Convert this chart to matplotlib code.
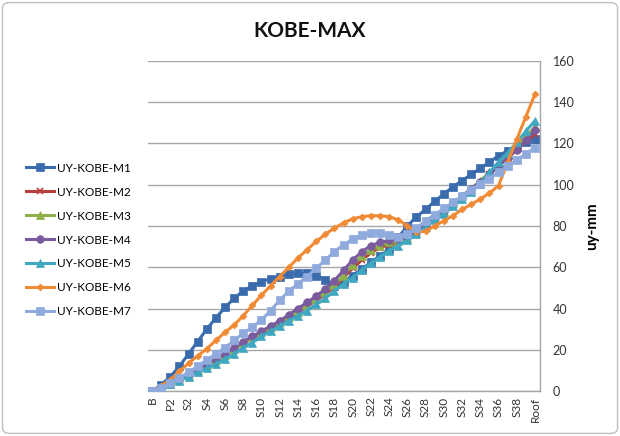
import matplotlib
matplotlib.use("Agg")
import matplotlib.pyplot as plt
from matplotlib.patches import FancyBboxPatch

plt.rcParams['font.family'] = ['Lato', 'DejaVu Sans']

categories = ["B", "P1", "P2"] + [f"S{i}" for i in range(1, 40)] + ["Roof"]

m1 = [0, 3, 7, 12, 18, 24, 30, 35.5, 40.5, 45, 48.5, 51, 53, 54.5, 55.5, 56.5, 57, 57, 56, 54,
      51, 53, 56, 59, 62.5, 65.5, 68.5, 74.5, 80, 84.5, 88, 92, 95.5, 99, 102, 105, 108, 111,
      114, 116.5, 118.5, 120.5, 122]
m2 = [0, 1.5, 3.5, 5.5, 7.5, 10, 12.5, 15, 17.5, 20.5, 23, 25.5, 28, 30.5, 33, 35.5, 38, 41,
      44, 47, 50.5, 55, 59.5, 63.5, 67, 69.5, 71, 72, 73.5, 76.5, 80, 83.5, 87, 90.5, 94, 97.5,
      101, 105, 109, 113, 117, 121, 124.5]
m3 = [0, 1.5, 3.5, 5.5, 7.5, 10, 12.5, 15, 17.5, 20.5, 23.5, 26, 28.5, 31, 33.5, 36, 38.5,
      41.5, 44.5, 48, 51.5, 56, 61, 65.5, 68.5, 70.5, 72, 72.5, 74, 77, 80.5, 84, 87.5, 91,
      94.5, 98, 102, 106, 110, 114.5, 119, 123.5, 128]
m4 = [0, 1.5, 3.5, 5.5, 8, 10.5, 13, 15.5, 18, 21, 24, 26.5, 29, 31.5, 34, 37, 40, 43, 46,
      49.5, 53.5, 58.5, 63.5, 67.5, 70.5, 72, 73, 73.5, 74.5, 77, 80.5, 84, 87.5, 91, 94.5, 98,
      101.5, 105, 109, 113, 117, 121.5, 126.5]
m5 = [0, 1.5, 3.5, 5, 7, 9, 11, 13, 15.5, 18, 21, 23.5, 26.5, 29, 31.5, 34, 36.5, 39, 42, 45,
      48.5, 52, 55, 58.5, 62, 65, 68, 70.5, 73, 76, 79.5, 83, 86, 89.5, 93, 96.5, 100.5, 106,
      111, 115.5, 120.5, 126, 131]
m6 = [0, 2.5, 5.5, 9.5, 13.5, 17, 20.5, 24.5, 28.5, 32, 36.5, 41.5, 46.5, 51, 55.5, 60, 64.5,
      68.5, 72.5, 76, 79, 81.5, 83.5, 84.5, 85, 85, 84.5, 83, 80, 77, 77.5, 80, 82.5, 85, 88,
      90.5, 93, 96, 99.5, 111, 122, 133, 144]
m7 = [0, 1.5, 4, 6.5, 9, 12, 15, 18, 21, 24.5, 28, 31, 34.5, 39, 44, 48.5, 52, 55.5, 59.5,
      63.5, 67.5, 71, 73.5, 75.5, 76.5, 76.5, 75.5, 74.5, 76, 79, 82.5, 85.5, 88.5, 91.5, 94.5,
      97.5, 100.5, 103, 106, 109, 112, 115, 118]

series_names = ["UY-KOBE-M1", "UY-KOBE-M2", "UY-KOBE-M3", "UY-KOBE-M4",
                "UY-KOBE-M5", "UY-KOBE-M6", "UY-KOBE-M7"]
series_values = [m1, m2, m3, m4, m5, m6, m7]
colors = ["#3A6BAD", "#B8403C", "#8DB04A", "#7A5C9E", "#3FA7C0", "#F08A35", "#8FAADC"]
markers = ["s", "x", "^", "o", "^", "D", "s"]
msizes = [6, 5, 5.5, 5.5, 5.5, 3.5, 6]

title = "KOBE-MAX"
ylabel = "uy-mm"
yticks = [0, 20, 40, 60, 80, 100, 120, 140, 160]

fig = plt.figure(figsize=(6.2, 4.36), dpi=100)
ax = fig.add_axes([148 / 620, 45 / 436, 392 / 620, 330 / 436])

x = list(range(len(categories)))
handles = []
for name, vals, c, mk, ms in zip(series_names, series_values, colors, markers, msizes):
    h, = ax.plot(x, vals, color=c, marker=mk, markersize=ms, linewidth=2.2,
                 markeredgewidth=1.2 if mk == "x" else 0.5, markeredgecolor=c,
                 label=name, zorder=3)
    handles.append(h)

ax.set_xlim(-0.45, 42.55)
ax.set_ylim(0, 160)
ax.set_yticks(yticks)
ax.yaxis.tick_right()
ax.yaxis.set_label_position("right")
ax.tick_params(axis="y", length=0, pad=9, labelsize=9, labelcolor="#333333")
ax.set_xticks(x[::2])
ax.set_xticklabels(categories[::2], rotation=90, fontsize=8.5, color="#333333")
ax.tick_params(axis="x", length=0, pad=4)
ax.grid(axis="y", color="#A6A6A6", linewidth=1.0, zorder=0)
for s in ["top", "left"]:
    ax.spines[s].set_visible(False)
for s in ["right", "bottom"]:
    ax.spines[s].set_color("#A6A6A6")
    ax.spines[s].set_linewidth(1.0)
ax.set_ylabel(ylabel, fontsize=11, fontweight="bold", rotation=90, labelpad=8)

fig.text(310 / 620, 1 - 31 / 436, title, ha="center", va="center",
         fontsize=15, fontweight="bold", color="#111111")

fig.legend(handles=handles, labels=series_names, loc="center left",
           bbox_to_anchor=(20 / 620, 1 - 240 / 436), frameon=False,
           fontsize=8.5, handlelength=2.4, handletextpad=0.2, labelspacing=1.1,
           borderpad=0.0, markerscale=1.0)

border = FancyBboxPatch((0.004, 0.006), 0.992, 0.988, boxstyle="round,pad=0,rounding_size=0.012",
                        transform=fig.transFigure, fill=False, edgecolor="#BFBFBF",
                        linewidth=1.0)
fig.patches.append(border)

fig.savefig("out.png", dpi=100)
